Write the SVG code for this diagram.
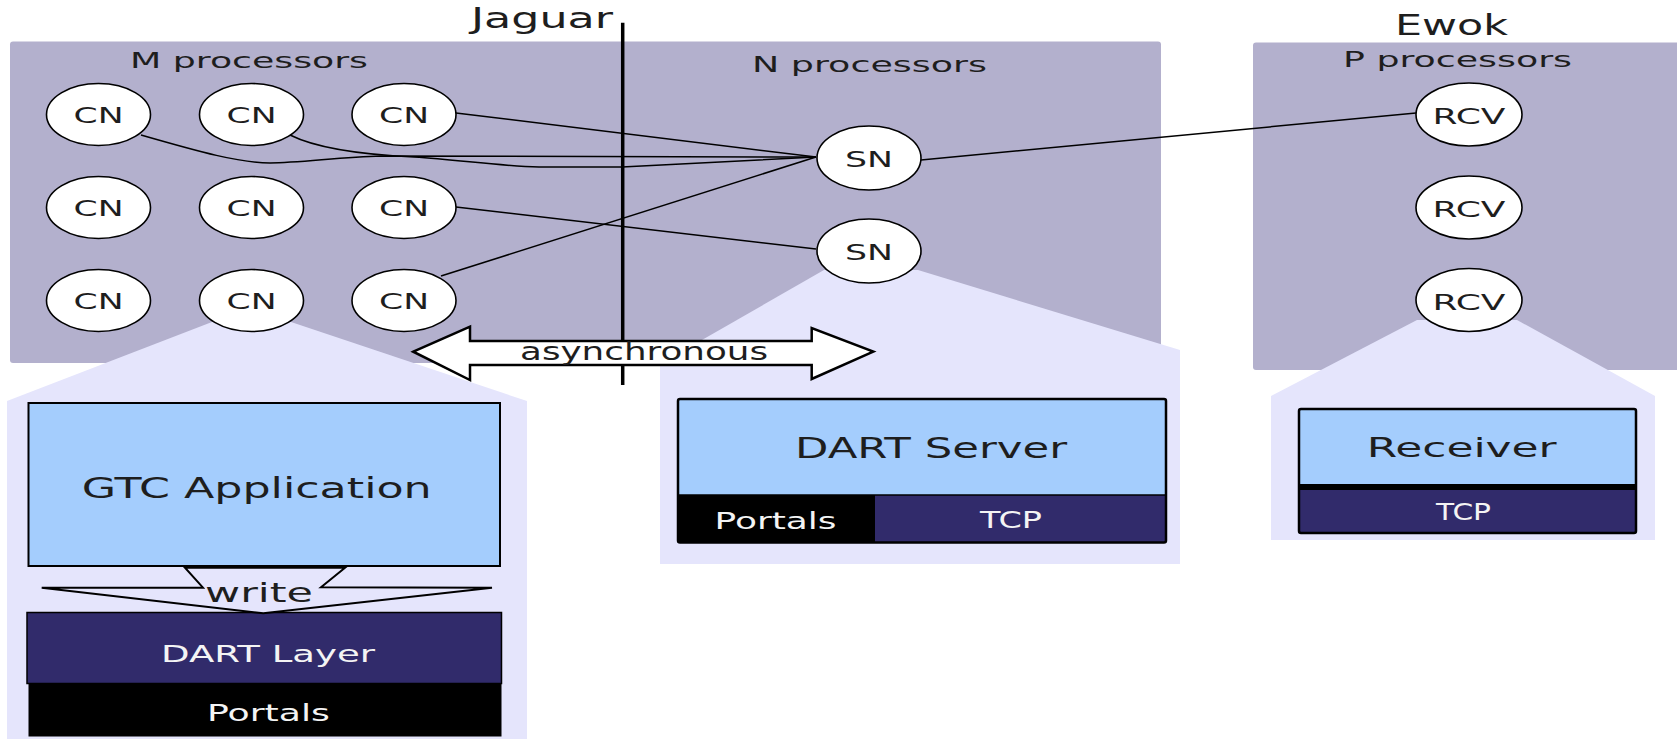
<svg xmlns="http://www.w3.org/2000/svg" width="1677" height="739" viewBox="0 0 1677 739">
<style>
text{font-family:"DejaVu Sans","Liberation Sans",sans-serif;fill:#1e1e1e}
.grp{fill:#b3b0cd}
.cone{fill:#e5e5fc}
.nd{fill:#ffffff;stroke:#000;stroke-width:1.6}
.nt{font-size:21px}
.lbl{font-size:22px}
.big{font-size:27.5px}
.wt{fill:#f4f4f4;font-size:23px}
.ln{fill:none;stroke:#000;stroke-width:1.5}
.blue{fill:#a4cdfd}
.navy{fill:#312b6b}
</style>
<g id="regions">
<rect class="grp" x="10" y="41.5" width="1151" height="321.5" rx="3"/>
<rect class="grp" x="1253" y="42.5" width="440" height="327.5" rx="3"/>
<polygon class="cone" points="212,322 291,322 527,401 527,739 7,739 7,401"/>
<polygon class="cone" points="824,270 918,270 1180,350 1180,564 660,564 660,364"/>
<polygon class="cone" points="1417,320 1517,320 1655,396 1655,540 1271,540 1271,396"/>
</g>
<g id="labels">
<text class="big" x="471" y="28.3" textLength="142" lengthAdjust="spacingAndGlyphs">Jaguar</text>
<text class="big" x="1395" y="35" textLength="113" lengthAdjust="spacingAndGlyphs">Ewok</text>
<text class="lbl" x="130" y="68.3" textLength="238" lengthAdjust="spacingAndGlyphs">M processors</text>
<text class="lbl" x="752" y="72" textLength="235" lengthAdjust="spacingAndGlyphs">N processors</text>
<text class="lbl" x="1343" y="66.7" textLength="229" lengthAdjust="spacingAndGlyphs">P processors</text>
</g>
<g id="connectors">
<path class="ln" d="M141,135 C200,152 240,163 270,163 C300,163 340,157 381,156 L816,157"/>
<path class="ln" d="M290,135 C320,150 370,155 414,157 C460,160 500,166 539,167 L622,167 L816,157"/>
<line class="ln" x1="456" y1="113" x2="816" y2="157"/>
<line class="ln" x1="456" y1="207" x2="816" y2="249"/>
<line class="ln" x1="441" y1="276" x2="816" y2="157"/>
<line class="ln" x1="921" y1="160" x2="1416" y2="113"/>
<line x1="622.7" y1="22.7" x2="622.7" y2="385" stroke="#000" stroke-width="3.5"/>
</g>
<g id="cn-nodes">
<g id="cn11"><ellipse class="nd" cx="98.5" cy="114.5" rx="52" ry="31"/><text class="nt" x="98.5" y="123.3" text-anchor="middle" textLength="50" lengthAdjust="spacingAndGlyphs">CN</text></g>
<g id="cn12"><ellipse class="nd" cx="251.5" cy="114.5" rx="52" ry="31"/><text class="nt" x="251.5" y="123.3" text-anchor="middle" textLength="50" lengthAdjust="spacingAndGlyphs">CN</text></g>
<g id="cn13"><ellipse class="nd" cx="404" cy="114.5" rx="52" ry="31"/><text class="nt" x="404" y="123.3" text-anchor="middle" textLength="50" lengthAdjust="spacingAndGlyphs">CN</text></g>
<g id="cn21"><ellipse class="nd" cx="98.5" cy="207.5" rx="52" ry="31"/><text class="nt" x="98.5" y="216.3" text-anchor="middle" textLength="50" lengthAdjust="spacingAndGlyphs">CN</text></g>
<g id="cn22"><ellipse class="nd" cx="251.5" cy="207.5" rx="52" ry="31"/><text class="nt" x="251.5" y="216.3" text-anchor="middle" textLength="50" lengthAdjust="spacingAndGlyphs">CN</text></g>
<g id="cn23"><ellipse class="nd" cx="404" cy="207.5" rx="52" ry="31"/><text class="nt" x="404" y="216.3" text-anchor="middle" textLength="50" lengthAdjust="spacingAndGlyphs">CN</text></g>
<g id="cn31"><ellipse class="nd" cx="98.5" cy="300.5" rx="52" ry="31"/><text class="nt" x="98.5" y="309.3" text-anchor="middle" textLength="50" lengthAdjust="spacingAndGlyphs">CN</text></g>
<g id="cn32"><ellipse class="nd" cx="251.5" cy="300.5" rx="52" ry="31"/><text class="nt" x="251.5" y="309.3" text-anchor="middle" textLength="50" lengthAdjust="spacingAndGlyphs">CN</text></g>
<g id="cn33"><ellipse class="nd" cx="404" cy="300.5" rx="52" ry="31"/><text class="nt" x="404" y="309.3" text-anchor="middle" textLength="50" lengthAdjust="spacingAndGlyphs">CN</text></g>
</g>
<g id="sn-nodes">
<g id="sn1"><ellipse class="nd" cx="869" cy="158" rx="52" ry="32"/><text class="nt" x="869" y="166.7" text-anchor="middle" textLength="48" lengthAdjust="spacingAndGlyphs">SN</text></g>
<g id="sn2"><ellipse class="nd" cx="869" cy="251" rx="52" ry="32"/><text class="nt" x="869" y="259.7" text-anchor="middle" textLength="48" lengthAdjust="spacingAndGlyphs">SN</text></g>
</g>
<g id="rcv-nodes">
<g id="rcv1"><ellipse class="nd" cx="1469" cy="114.5" rx="53" ry="31.5"/><text class="nt" x="1469" y="124" text-anchor="middle" textLength="73" lengthAdjust="spacingAndGlyphs">RCV</text></g>
<g id="rcv2"><ellipse class="nd" cx="1469" cy="207.5" rx="53" ry="31.5"/><text class="nt" x="1469" y="217" text-anchor="middle" textLength="73" lengthAdjust="spacingAndGlyphs">RCV</text></g>
<g id="rcv3"><ellipse class="nd" cx="1469" cy="300" rx="53" ry="31.5"/><text class="nt" x="1469" y="309.5" text-anchor="middle" textLength="73" lengthAdjust="spacingAndGlyphs">RCV</text></g>
</g>
<g id="async-arrow">
<polygon points="413.3,351.7 470,326.7 470,341 811.7,341 811.7,328 873.3,351.7 811.7,379 811.7,365 470,365 470,380" fill="#fff" stroke="#000" stroke-width="2.5" stroke-linejoin="miter"/>
<text x="520" y="360" font-size="24" textLength="248" lengthAdjust="spacingAndGlyphs">asynchronous</text>
</g>
<g id="gtc-stack">
<rect class="blue" x="28.5" y="403" width="471.5" height="163" stroke="#000" stroke-width="2"/>
<text class="big" x="81.7" y="498.3" textLength="350" lengthAdjust="spacingAndGlyphs">GTC Application</text>
<rect class="navy" x="27" y="612.5" width="474.5" height="71" stroke="#000" stroke-width="1.5"/>
<text class="wt" x="161" y="661.7" textLength="214" lengthAdjust="spacingAndGlyphs">DART Layer</text>
<rect x="28.5" y="683.5" width="473" height="53" fill="#000"/>
<text class="wt" x="207" y="721" textLength="123" lengthAdjust="spacingAndGlyphs">Portals</text>
</g>
<g id="write-arrow">
<polygon points="185,567.7 345,567.7 321,587.3 492,587.7 263.3,613.3 41.7,587.7 203,587.7" fill="#e5e5fc" stroke="#000" stroke-width="2" stroke-linejoin="miter"/>
<text x="205" y="601.7" font-size="27" textLength="108" lengthAdjust="spacingAndGlyphs">write</text>
</g>
<g id="server-stack">
<rect class="blue" x="678" y="399" width="488" height="96"/>
<rect x="678" y="495" width="197" height="47.5" fill="#000"/>
<rect class="navy" x="875" y="495" width="291" height="47.5"/>
<rect x="678" y="399" width="488" height="143.5" rx="2" fill="none" stroke="#000" stroke-width="2.5"/>
<line x1="678" y1="495" x2="1166" y2="495" stroke="#000" stroke-width="1.5"/>
<text class="big" x="795" y="458.3" textLength="272" lengthAdjust="spacingAndGlyphs">DART Server</text>
<text class="wt" x="714.6" y="529" textLength="122" lengthAdjust="spacingAndGlyphs">Portals</text>
<text class="wt" x="980" y="528" font-size="22" textLength="62" lengthAdjust="spacingAndGlyphs">TCP</text>
</g>
<g id="receiver-stack">
<rect class="blue" x="1299" y="409" width="337" height="75"/>
<rect class="navy" x="1299" y="490" width="337" height="43"/>
<rect x="1299" y="484" width="337" height="6" fill="#000"/>
<rect x="1299" y="409" width="337" height="124" rx="2" fill="none" stroke="#000" stroke-width="2.5"/>
<text x="1366.7" y="456.7" font-size="26" textLength="190" lengthAdjust="spacingAndGlyphs">Receiver</text>
<text class="wt" x="1436" y="520" font-size="22" textLength="55" lengthAdjust="spacingAndGlyphs">TCP</text>
</g>
</svg>
